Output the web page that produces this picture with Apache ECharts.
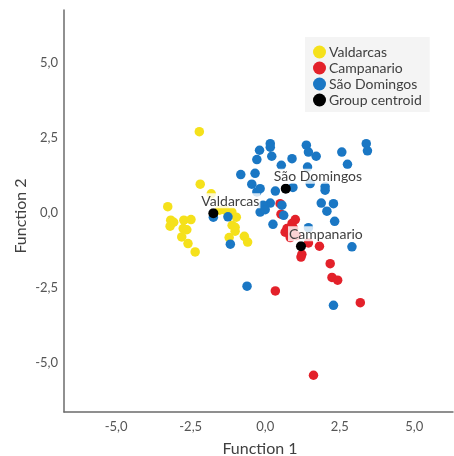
<!DOCTYPE html>
<html>
<head>
<meta charset="utf-8">
<script src="https://cdn.jsdelivr.net/npm/echarts@6/dist/echarts.min.js"></script>
<style>html,body{margin:0;padding:0;background:#fff}#c{width:454px;height:456px}</style>
</head>
<body>
<div id="c"></div>
<script>
var groupNames = ['Valdarcas', 'Campanario', 'São Domingos', 'Group centroid'];
var xTicks = [-5, -2.5, 0, 2.5, 5];
var yTicks = [-5, -2.5, 0, 2.5, 5];

var valdarcas = [
  [-2.21, 2.72], [-2.18, 0.97], [-1.81, 0.65], [-3.27, 0.22], [-3.17, -0.23],
  [-3.07, -0.30], [-3.19, -0.43], [-2.73, -0.23], [-2.49, -0.21], [-2.75, -0.51],
  [-2.63, -0.55], [-2.80, -0.79], [-2.59, -1.01], [-2.35, -1.29], [-1.34, 0.10],
  [-1.12, 0.04], [-1.21, -0.07], [-1.11, -0.40], [-1.01, -0.47], [-1.01, -0.60],
  [-1.21, -0.81], [-0.70, -0.77], [-0.59, -0.96], [-1.54, 0.10], [-0.97, -0.13]
];
var campanario = [
  [0.50, 0.32], [0.53, -0.03], [1.01, -0.21], [0.90, -0.34], [0.73, -0.51],
  [0.84, -0.81], [1.45, -0.99], [1.82, -1.10], [1.23, -1.37], [1.20, -1.46],
  [2.18, -1.68], [2.24, -2.14], [2.43, -2.23], [0.34, -2.59], [3.19, -2.98],
  [1.62, -5.40], [0.67, -0.63], [1.05, -0.75], [0.95, -0.50]
];
var saoDomingos = [
  [0.17, 2.32], [0.17, 2.20], [-0.19, 2.10], [0.22, 1.90], [-0.28, 1.79],
  [0.54, 1.60], [0.90, 1.82], [1.38, 2.27], [1.45, 2.04], [1.71, 1.90],
  [1.42, 1.54], [2.57, 2.04], [2.76, 1.63], [3.39, 2.32], [3.43, 2.08],
  [-0.82, 1.29], [-0.34, 1.33], [-0.45, 0.97], [-0.28, 0.71], [-0.17, 0.82],
  [0.34, 0.74], [0.93, 0.86], [1.51, 0.99], [2.01, 0.88], [2.01, 0.77],
  [0.17, 0.34], [1.88, 0.34], [2.29, 0.32], [2.07, 0.07], [-0.07, 0.27],
  [-0.17, 0.04], [0.00, 0.12], [0.56, 0.27], [0.62, -0.07], [0.26, -0.37],
  [2.33, -0.27], [2.91, -1.12], [1.45, -0.48], [-1.74, -0.13], [-1.25, -0.12],
  [-1.17, -1.03], [-0.61, -2.43], [2.29, -3.07]
];
var centroidNames = ['Valdarcas', 'São Domingos', 'Campanario'];
var centroids = [[-1.74, 0.00], [0.69, 0.82], [1.20, -1.10]];

var chart = echarts.init(document.getElementById('c'), null, {renderer: 'canvas'});
var FONT = 'Lato';
function fmt(list) {
  return function (v) {
    for (var i = 0; i < list.length; i++) {
      if (Math.abs(v - list[i]) < 1e-6) {
        return list[i].toFixed(1).replace('-0.0', '0.0').replace('.', ',');
      }
    }
    return '';
  };
}
var dot = 9.5;
chart.setOption({
  animation: false,
  backgroundColor: '#ffffff',
  textStyle: {fontFamily: FONT},
  grid: {left: 64, right: 1, top: 10, bottom: 44, containLabel: false, outerBoundsMode: 'none'},
  legend: {
    orient: 'vertical',
    left: 305, top: 37,
    padding: [8, 8, 5, 8],
    backgroundColor: '#f4f4f4',
    itemWidth: 13, itemHeight: 14, itemGap: 2,
    icon: 'circle',
    textStyle: {fontFamily: FONT, fontSize: 14, color: '#404040', padding: [0, 0, 0, -2]},
    data: groupNames
  },
  xAxis: {
    type: 'value', min: -6.75, max: 6.3, interval: 0.25,
    name: 'Function 1', nameLocation: 'middle', nameGap: 29, nameMoveOverlap: false,
    nameTextStyle: {fontFamily: FONT, fontSize: 16, color: '#404040', padding: [0, 0, 0, 3]},
    axisLine: {show: true, onZero: false, lineStyle: {color: '#6b6b6b', width: 1.5}},
    axisTick: {show: false}, splitLine: {show: false},
    axisLabel: {showMinLabel: true, showMaxLabel: true, margin: 8, fontFamily: FONT, fontSize: 13, color: '#555', formatter: fmt(xTicks)}
  },
  yAxis: {
    type: 'value', min: -6.625, max: 6.775, interval: 0.125,
    name: 'Function 2', nameLocation: 'middle', nameGap: 35, nameMoveOverlap: false,
    nameTextStyle: {fontFamily: FONT, fontSize: 16, color: '#404040', padding: [0, 10, 0, 0]},
    axisLine: {show: true, onZero: false, lineStyle: {color: '#6b6b6b', width: 1.5}},
    axisTick: {show: false}, splitLine: {show: false},
    axisLabel: {margin: 6, fontFamily: FONT, fontSize: 13, color: '#555', formatter: fmt(yTicks)}
  },
  series: [
    {name: groupNames[0], type: 'scatter', symbolSize: dot, itemStyle: {color: '#f5e11b', opacity: 1}, data: valdarcas, z: 2},
    {name: groupNames[1], type: 'scatter', symbolSize: dot, itemStyle: {color: '#e3212a', opacity: 1}, data: campanario, z: 2},
    {name: groupNames[2], type: 'scatter', symbolSize: dot, itemStyle: {color: '#1a77c4', opacity: 1}, data: saoDomingos, z: 2},
    {name: groupNames[3], type: 'scatter', symbolSize: 10, itemStyle: {color: '#000000', opacity: 1}, z: 5,
      data: centroids.map(function (c, i) { return {value: c, name: centroidNames[i]}; }),
      label: {
        show: true, position: 'top', distance: 0, align: 'left', offset: [-13, 0],
        formatter: '{b}', fontFamily: FONT, fontSize: 14, color: '#404040',
        backgroundColor: 'rgba(255,255,255,0.8)', padding: [1, 1, 0, 1]
      }
    }
  ]
});
</script>
</body>
</html>
